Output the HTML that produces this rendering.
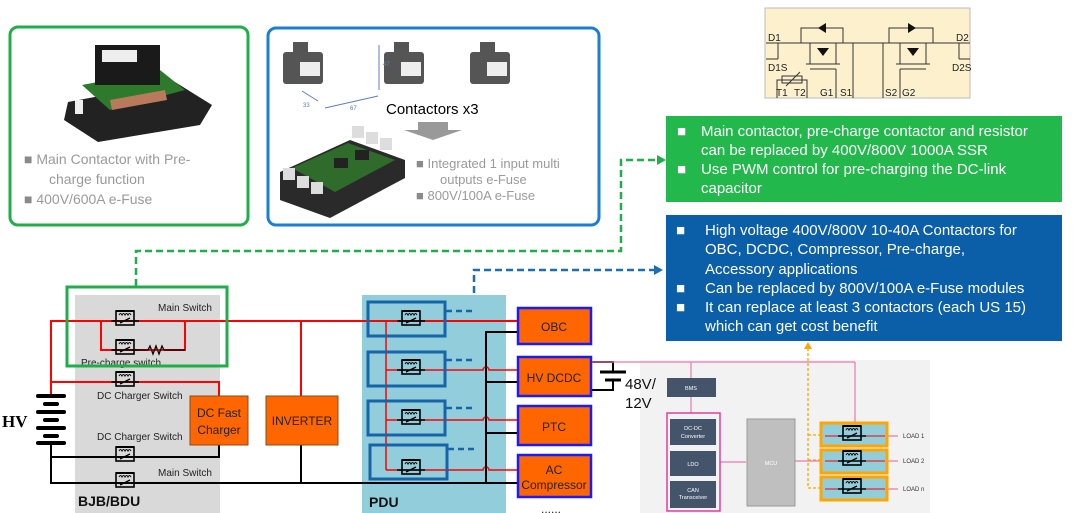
<!DOCTYPE html>
<html><head><meta charset="utf-8"><style>
html,body{margin:0;padding:0;background:#fff}
svg{display:block}
text{font-family:"Liberation Sans",Arial,sans-serif}
</style></head><body>
<svg width="1080" height="513" viewBox="0 0 1080 513" xmlns="http://www.w3.org/2000/svg">
<defs>
<g id="sw">
<line x1="-14" y1="4" x2="14" y2="4" stroke="#000" stroke-width="1.5"/>
<rect x="-9" y="-6" width="18" height="14" fill="none" stroke="#000" stroke-width="1.6"/>
<path d="M-6,-2 q1.5,-3 3,0 q1.5,-3 3,0 q1.5,-3 3,0 q1.5,-3 3,0" fill="none" stroke="#000" stroke-width="1"/>
<line x1="-5" y1="6" x2="5" y2="1" stroke="#000" stroke-width="1.3"/>
<line x1="-9" y1="-6" x2="9" y2="-6" stroke="#000" stroke-width="2"/>
</g>
</defs>

<!-- Top-left green card -->
<rect x="10" y="27" width="238" height="198" rx="8" fill="#fff" stroke="#1fae4a" stroke-width="3"/>
<g>
<polygon points="68,102 175,82 212,105 200,125 98,142 64,120" fill="#222"/>
<polygon points="82,85 160,70 185,90 110,110" fill="#2d7a2d"/>
<rect x="95" y="45" width="65" height="40" fill="#1a1a1a"/>
<rect x="102" y="50" width="35" height="12" fill="#eee"/>
<polygon points="110,100 165,90 167,100 112,110" fill="#b87a5a"/>
<rect x="75" y="100" width="8" height="14" fill="#eee"/>
</g>
<text x="24" y="164" font-size="14" fill="#9a9a9a"><tspan fill="#8a8a8a">■</tspan>  Main Contactor with Pre-</text>
<text x="49" y="184" font-size="14" fill="#9a9a9a">charge function</text>
<text x="24" y="204" font-size="14" fill="#9a9a9a"><tspan fill="#8a8a8a">■</tspan>  400V/600A e-Fuse</text>

<!-- Top blue card -->
<rect x="268" y="28" width="331" height="197" rx="8" fill="#fff" stroke="#1a7fd4" stroke-width="3"/>
<g fill="#555">
<rect x="283" y="52" width="40" height="32" rx="3"/><rect x="384" y="52" width="40" height="32" rx="3"/><rect x="470" y="52" width="40" height="32" rx="3"/>
<rect x="293" y="42" width="15" height="12"/><rect x="394" y="42" width="15" height="12"/><rect x="480" y="42" width="15" height="12"/>
</g>
<rect x="300" y="62" width="20" height="14" fill="#eee"/><rect x="401" y="62" width="20" height="14" fill="#eee"/><rect x="487" y="62" width="20" height="14" fill="#eee"/>
<line x1="379" y1="45" x2="379" y2="90" stroke="#5b7fc0"/>
<line x1="325" y1="108" x2="378" y2="96" stroke="#5b7fc0"/>
<line x1="302" y1="91" x2="318" y2="101" stroke="#5b7fc0"/>
<text x="383" y="66" font-size="6" fill="#5b7fc0">47</text>
<text x="303" y="107" font-size="6" fill="#5b7fc0">33</text>
<text x="350" y="110" font-size="6" fill="#5b7fc0">67</text>
<text x="386" y="114" font-size="15" fill="#000">Contactors x3</text>
<polygon points="418,122 448,122 448,130 462,130 433,140 404,130 418,130" fill="#999"/>
<g>
<polygon points="280,172 350,140 405,160 405,178 330,218 280,200" fill="#2a2a2a"/>
<polygon points="292,168 348,143 395,160 335,192" fill="#2f6b2b"/>
<rect x="352" y="126" width="12" height="12" fill="#ddd"/><rect x="366" y="132" width="12" height="12" fill="#ddd"/><rect x="380" y="138" width="12" height="12" fill="#ddd"/>
<rect x="283" y="168" width="12" height="12" fill="#ddd"/><rect x="297" y="176" width="12" height="12" fill="#ddd"/><rect x="311" y="182" width="12" height="12" fill="#ddd"/>
<rect x="334" y="158" width="14" height="10" fill="#222"/><rect x="355" y="150" width="14" height="10" fill="#222"/>
</g>
<text x="416" y="168" font-size="13" fill="#9a9a9a"><tspan fill="#8a8a8a">■</tspan>   Integrated 1 input multi</text>
<text x="440" y="184" font-size="13" fill="#9a9a9a">outputs e-Fuse</text>
<text x="416" y="200" font-size="13" fill="#9a9a9a"><tspan fill="#8a8a8a">■</tspan>   800V/100A e-Fuse</text>

<!-- SSR schematic -->
<rect x="765" y="8" width="205" height="90" fill="#fdf0cc" stroke="#bbb"/>
<g stroke="#333" stroke-width="1" fill="none">
<line x1="766" y1="43" x2="970" y2="43"/>
<polyline points="801,43 801,28 843,28 843,43"/>
<polyline points="889,43 889,28 933,28 933,43"/>
<line x1="778" y1="43" x2="778" y2="59"/><line x1="766" y1="59" x2="778" y2="59"/>
<line x1="959" y1="43" x2="959" y2="59"/><line x1="959" y1="59" x2="970" y2="59"/>
<line x1="810" y1="43" x2="810" y2="64"/><line x1="836" y1="43" x2="836" y2="64"/>
<line x1="806" y1="64" x2="840" y2="64"/><line x1="810" y1="69" x2="836" y2="69"/><line x1="836" y1="69" x2="836" y2="98"/>
<line x1="853" y1="43" x2="853" y2="98"/><line x1="883" y1="43" x2="883" y2="98"/>
<line x1="900" y1="43" x2="900" y2="64"/><line x1="926" y1="43" x2="926" y2="64"/>
<line x1="896" y1="64" x2="930" y2="64"/><line x1="900" y1="69" x2="926" y2="69"/><line x1="900" y1="69" x2="900" y2="98"/>
<polyline points="777,98 777,80 807,80 807,98"/>
<rect x="782" y="76" width="20" height="7"/><line x1="786" y1="86" x2="800" y2="72"/>
</g>
<g fill="#111"><polygon points="818,28 826,23 826,33"/><polygon points="908,23 916,28 908,33"/><polygon points="817,48 829,48 823,56"/><polygon points="907,48 919,48 913,56"/></g>
<g font-size="10" fill="#222">
<text x="768" y="41">D1</text><text x="956" y="41">D2</text>
<text x="768" y="71">D1S</text><text x="952" y="71">D2S</text>
<text x="776" y="96">T1</text><text x="794" y="96">T2</text><text x="820" y="96">G1</text><text x="840" y="96">S1</text><text x="885" y="96">S2</text><text x="902" y="96">G2</text>
</g>

<!-- Info boxes -->
<rect x="666" y="116" width="396" height="86" fill="#22b84b"/>
<g font-size="15" fill="#fff">
<text x="677" y="136">■</text><text x="701" y="136">Main contactor, pre-charge contactor and resistor</text>
<text x="701" y="155">can be replaced by 400V/800V 1000A SSR</text>
<text x="677" y="174">■</text><text x="701" y="174">Use PWM control for pre-charging the DC-link</text>
<text x="701" y="193">capacitor</text>
</g>
<rect x="666" y="215" width="396" height="126" fill="#0b5fa8"/>
<g font-size="15" fill="#fff">
<text x="676" y="235">■</text><text x="705" y="235">High voltage 400V/800V 10-40A Contactors for</text>
<text x="705" y="254">OBC, DCDC, Compressor, Pre-charge,</text>
<text x="705" y="274">Accessory applications</text>
<text x="676" y="293">■</text><text x="705" y="293">Can be replaced by 800V/100A e-Fuse modules</text>
<text x="676" y="312">■</text><text x="705" y="312">It can replace at least 3 contactors (each US 15)</text>
<text x="705" y="331">which can get cost benefit</text>
</g>

<!-- Dashed connectors -->
<polyline points="136,286 136,251 621,251 621,160 659,160" fill="none" stroke="#1fae4a" stroke-width="2.5" stroke-dasharray="7,4"/>
<polygon points="657,155 666,160 657,165" fill="#1fae4a"/>
<polyline points="474,447 474,270 656,270" fill="none" stroke="#1a6fb0" stroke-width="2.5" stroke-dasharray="7,4"/>
<polygon points="654,265 663,270 654,275" fill="#1a6fb0"/>

<!-- regions -->
<rect x="75" y="295" width="145" height="218" fill="#d9d9d9"/>
<rect x="362" y="295" width="144" height="218" fill="#92cddc"/>
<rect x="640" y="360" width="290" height="153" fill="#f2f2f2"/>

<!-- red wires -->
<g stroke="#f00" stroke-width="2" fill="none">
<polyline points="51,395 51,321 518,321"/>
<polyline points="101,321 101,350 185,350 185,321"/>
<line x1="301" y1="321" x2="301" y2="397"/>
<polyline points="51,382 219,382 219,397"/>
</g>
<g stroke="#f00" stroke-width="1.5" fill="none">
<line x1="386" y1="321" x2="386" y2="470"/>
<path d="M386,370 H483 a3,3 0 0 1 6,0 H518"/>
<path d="M386,420 H483 a3,3 0 0 1 6,0 H518"/>
<path d="M386,470 H483 a3,3 0 0 1 6,0 H518"/>
</g>
<!-- black wires -->
<g stroke="#000" stroke-width="2" fill="none">
<polyline points="51,445 51,483 518,483"/>
<polyline points="51,457 219,457 219,445"/>
<line x1="301" y1="445" x2="301" y2="483"/>
<polyline points="486,483 486,332 518,332"/>
<line x1="486" y1="382" x2="518" y2="382"/>
<line x1="486" y1="433" x2="518" y2="433"/>
<polyline points="592,362 613,362 613,372"/>
<polyline points="592,390 613,390 613,381"/>
</g>
<line x1="600" y1="372" x2="626" y2="372" stroke="#000" stroke-width="3"/>
<line x1="605" y1="380" x2="621" y2="380" stroke="#000" stroke-width="3"/>

<!-- battery -->
<g stroke="#000" stroke-width="4" stroke-linecap="round">
<line x1="38" y1="396" x2="64" y2="396"/><line x1="45" y1="404" x2="57" y2="404"/>
<line x1="38" y1="412" x2="64" y2="412"/><line x1="45" y1="420" x2="57" y2="420"/>
<line x1="38" y1="428" x2="64" y2="428"/><line x1="45" y1="436" x2="57" y2="436"/>
<line x1="38" y1="443" x2="64" y2="443"/>
</g>
<text x="2" y="427" font-size="17" font-weight="bold" style="font-family:'Liberation Serif',serif">HV</text>

<!-- switches BJB -->
<use href="#sw" x="125" y="317"/>
<use href="#sw" x="125" y="346"/>
<use href="#sw" x="125" y="378"/>
<use href="#sw" x="125" y="453"/>
<use href="#sw" x="125" y="479"/>
<path d="M139,350 H148 l2,-4 l3,8 l3,-8 l3,8 l3,-8 l2,4 H185" fill="none" stroke="#000" stroke-width="1.3"/>
<g font-size="10" fill="#222">
<text x="158" y="311">Main Switch</text>
<text x="81" y="366">Pre-charge switch</text>
<text x="97" y="399">DC Charger Switch</text>
<text x="97" y="440">DC Charger Switch</text>
<text x="158" y="476">Main Switch</text>
</g>
<text x="78" y="506" font-size="14" font-weight="bold" fill="#111">BJB/BDU</text>
<rect x="67" y="287" width="160" height="79" fill="none" stroke="#1fae4a" stroke-width="3"/>

<!-- orange boxes -->
<rect x="190" y="396" width="58" height="49" fill="#ff6600" stroke="#8a4a1a"/>
<text x="219" y="417" font-size="12" fill="#222" text-anchor="middle">DC Fast</text>
<text x="219" y="434" font-size="12" fill="#222" text-anchor="middle">Charger</text>
<rect x="266" y="396" width="72" height="49" fill="#ff6600" stroke="#8a4a1a"/>
<text x="302" y="425" font-size="12" fill="#222" text-anchor="middle">INVERTER</text>

<!-- PDU modules -->
<g fill="none" stroke="#1565a8" stroke-width="3">
<rect x="368" y="302" width="77" height="34"/>
<rect x="368" y="352" width="77" height="34"/>
<rect x="368" y="401" width="77" height="34"/>
<rect x="370" y="445" width="77" height="34"/>
</g>
<g stroke="#1565a8" stroke-width="2.5" stroke-dasharray="6,4" fill="none">
<line x1="446" y1="311" x2="474" y2="311"/>
<line x1="446" y1="360" x2="474" y2="360"/>
<line x1="446" y1="408" x2="474" y2="408"/>
<line x1="448" y1="449" x2="474" y2="449"/>
</g>
<use href="#sw" x="411" y="317"/>
<use href="#sw" x="411" y="366"/>
<use href="#sw" x="411" y="416"/>
<use href="#sw" x="411" y="466"/>
<text x="369" y="507" font-size="14" font-weight="bold" fill="#111">PDU</text>

<g stroke="#1a1aff" stroke-width="2.5" fill="#ff6600">
<rect x="518" y="308" width="73" height="36"/>
<rect x="518" y="357" width="73" height="39"/>
<rect x="518" y="406" width="73" height="39"/>
<rect x="518" y="455" width="73" height="42"/>
</g>
<g font-size="12" fill="#222" text-anchor="middle">
<text x="554" y="331">OBC</text>
<text x="554" y="382">HV DCDC</text>
<text x="554" y="431">PTC</text>
<text x="554" y="474">AC</text>
<text x="554" y="489">Compressor</text>
</g>
<text x="541" y="513" font-size="12" fill="#222">......</text>
<text x="625" y="389" font-size="15" fill="#111">48V/</text>
<text x="625" y="408" font-size="15" fill="#111">12V</text>

<!-- LV panel -->
<g stroke="#e87ab0" stroke-width="1.2" fill="none">
<line x1="592" y1="362" x2="855" y2="362"/>
<line x1="691" y1="362" x2="691" y2="378"/>
<line x1="691" y1="397" x2="691" y2="413"/>
<line x1="855" y1="362" x2="855" y2="423"/>
<line x1="720" y1="462" x2="746" y2="462"/>
<line x1="795" y1="461" x2="822" y2="461"/>
<line x1="820" y1="436" x2="898" y2="436"/>
<line x1="820" y1="461" x2="898" y2="461"/>
<line x1="820" y1="489" x2="898" y2="489"/>
</g>
<rect x="667" y="413" width="53" height="98" fill="none" stroke="#e040a0" stroke-width="1.5"/>
<g fill="#44546a">
<rect x="667" y="378" width="49" height="19"/>
<rect x="670" y="419" width="46" height="26"/>
<rect x="670" y="451" width="46" height="25"/>
<rect x="670" y="481" width="46" height="27"/>
</g>
<rect x="747" y="419" width="48" height="87" fill="#bfbfbf" stroke="#999"/>
<g font-size="5.5" fill="#fff" text-anchor="middle">
<text x="691" y="390">BMS</text>
<text x="693" y="430">DC-DC</text><text x="693" y="438">Converter</text>
<text x="693" y="466">LDO</text>
<text x="693" y="492">CAN</text><text x="693" y="499">Transceiver</text>
<text x="771" y="465">MCU</text>
</g>
<g fill="#92cddc" stroke="#ffa500" stroke-width="3">
<rect x="821" y="423" width="66" height="23"/>
<rect x="821" y="450" width="66" height="23"/>
<rect x="821" y="477" width="66" height="23"/>
</g>
<g stroke="#f00" stroke-width="1"><line x1="825" y1="436" x2="885" y2="436"/><line x1="825" y1="461" x2="885" y2="461"/><line x1="825" y1="489" x2="885" y2="489"/></g>
<use href="#sw" x="852" y="432"/>
<use href="#sw" x="852" y="457"/>
<use href="#sw" x="852" y="485"/>
<g font-size="6" fill="#333"><text x="903" y="438">LOAD 1</text><text x="903" y="463">LOAD 2</text><text x="903" y="491">LOAD n</text></g>
<polyline points="821,435 808,435" fill="none" stroke="#ffa500" stroke-width="1.3" stroke-dasharray="3,2"/>
<polyline points="821,460 808,460" fill="none" stroke="#ffa500" stroke-width="1.3" stroke-dasharray="3,2"/>
<polyline points="821,488 808,488 808,348" fill="none" stroke="#ffa500" stroke-width="1.3" stroke-dasharray="3,2"/>
<polygon points="804,349 808,342 812,349" fill="#ffa500"/>
</svg>
</body></html>
